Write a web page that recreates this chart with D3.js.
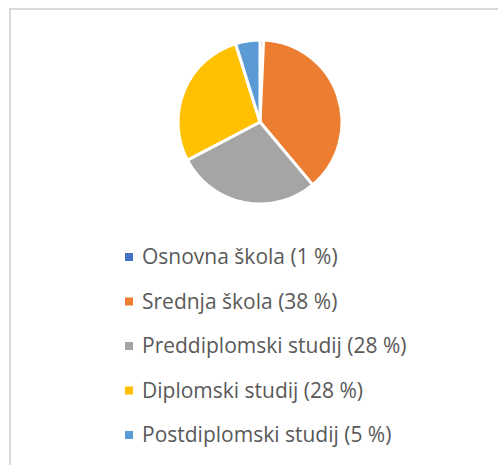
<!DOCTYPE html>
<html>
<head>
<meta charset="utf-8">
<script src="https://cdn.jsdelivr.net/npm/d3@7/dist/d3.min.js"></script>
<style>
  html, body { margin: 0; padding: 0; background: #fff; }
</style>
</head>
<body>
<div id="chart"></div>
<script>
"use strict";

/* ── Data ── */
const categories = ["Osnovna škola", "Srednja škola", "Preddiplomski studij", "Diplomski studij", "Postdiplomski studij"];
const values     = [0.7, 38.2, 28.4, 27.9, 4.8];
const labels     = ["1 %", "38 %", "28 %", "28 %", "5 %"];
const colours    = ["#4472C4", "#ED7D31", "#A5A5A5", "#FFC000", "#5B9BD5"];

const W = 498, H = 465;
const cx = 260, cy = 122, radius = 82;

const svg = d3.select("#chart").append("svg")
  .attr("width", W).attr("height", H);

/* ── Chart frame ── */
svg.append("rect")
  .attr("x", 10).attr("y", 9)
  .attr("width", W + 20).attr("height", H + 20)
  .attr("fill", "#fff")
  .attr("stroke", "#d9d9d9")
  .attr("stroke-width", 2);

/* ── Pie ── */
const pie = d3.pie().value(d => d).sort(null);
const arc = d3.arc().innerRadius(0).outerRadius(radius);

const g = svg.append("g").attr("transform", `translate(${cx},${cy})`);

g.selectAll("path")
  .data(pie(values))
  .join("path")
  .attr("d", arc)
  .attr("fill", (d, i) => colours[i])
  .attr("stroke", "#fff")
  .attr("stroke-width", 3)
  .attr("stroke-linejoin", "round");

/* ── Legend ── */
const rowY = d3.scaleLinear().domain([0, categories.length - 1]).range([257, 435]);

const legend = svg.append("g");
categories.forEach((c, i) => {
  const row = legend.append("g").attr("transform", `translate(125,${rowY(i)})`);
  row.append("rect")
    .attr("x", 0).attr("y", -4)
    .attr("width", 8).attr("height", 8)
    .attr("fill", colours[i]);
  row.append("text")
    .attr("x", 17).attr("y", 0)
    .attr("dy", "0.35em")
    .attr("fill", "#595959")
    .attr("font-family", "'Open Sans', sans-serif")
    .attr("font-size", "21px")
    .text(`${c} (${labels[i]})`);
});
</script>
</body>
</html>
